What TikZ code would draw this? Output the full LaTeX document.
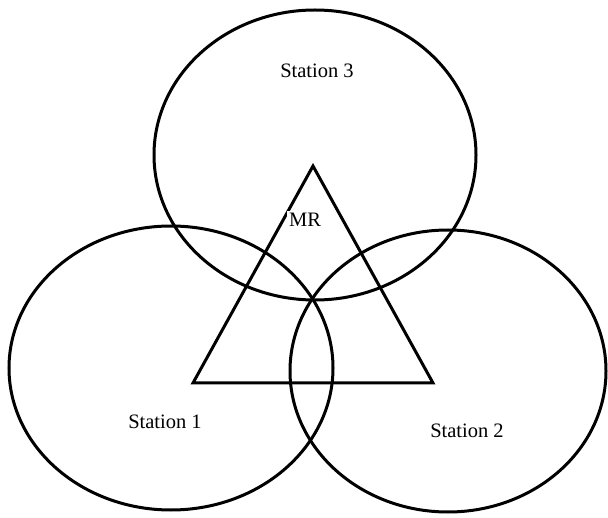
\documentclass[tikz,border=0pt]{standalone}
\usepackage{fontspec}
\setmainfont{Liberation Serif}
\usepackage{tikz}

\begin{document}
\begin{tikzpicture}[x=1pt, y=-1pt, every node/.style={font=\fontsize{20.5}{23}\selectfont}, ring/.style={draw, line width=3pt}]
	\useasboundingbox (0,0) rectangle (608,518);
	\draw[ring] (315,155) ellipse [x radius=161, y radius=145];
	\draw[ring] (171,368) ellipse [x radius=162, y radius=142];
	\draw[ring] (448,371) ellipse [x radius=158, y radius=141];
	\coordinate (T) at (313,166);
	\coordinate (L) at (193,383);
	\coordinate (R) at (433,383);
	\draw[ring, line join=miter] (T) -- (R) -- (L) -- cycle;
	\node[fill=white, inner sep=2pt] (mr) at (305,220) {MR};
	\node (s3) at (317,71) {Station 3};
	\node (s1) at (165,422) {Station 1};
	\node (s2) at (467,431) {Station 2};
\end{tikzpicture}
\end{document}
